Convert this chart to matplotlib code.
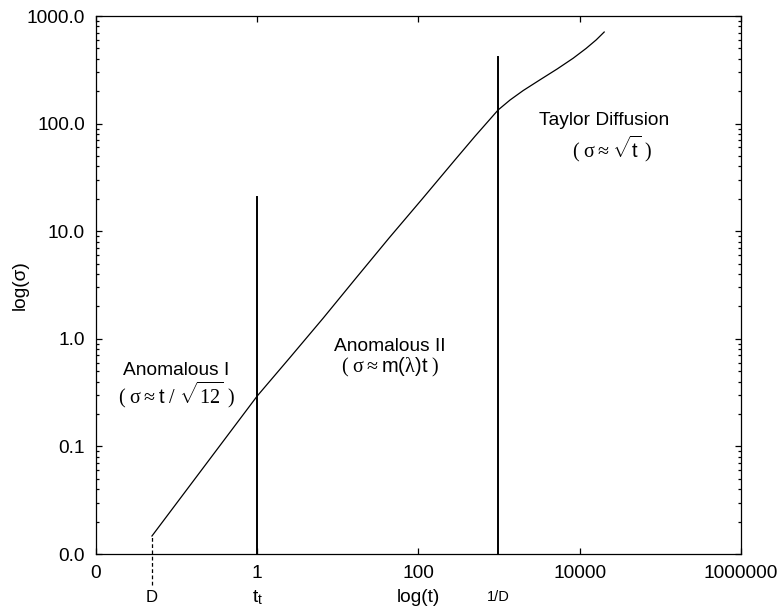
import matplotlib
matplotlib.use("Agg")
import matplotlib.pyplot as plt

plt.rcParams['font.family'] = ['Liberation Sans', 'DejaVu Sans']
plt.rcParams['mathtext.fontset'] = 'custom'
plt.rcParams['mathtext.rm'] = 'Liberation Serif'
plt.rcParams['mathtext.it'] = 'Liberation Serif'
plt.rcParams['mathtext.sf'] = 'Liberation Sans'

# dispersion curve
t_vals = [0.0495, 1.0, 2.55, 6.55, 16.8, 43.2, 111, 285, 504,
          973, 1370, 1990, 3230, 5250, 8280, 12000, 16000, 20100]
sigma_vals = [0.0147, 0.294, 0.670, 1.55, 3.67, 8.65, 19.9, 46.2, 76.5,
              134, 166, 203, 256, 322, 405, 500, 600, 710]

# regime boundaries
t_D = 0.0495
t_t = 1
t_invD = 973
line_top_tt = 21
line_top_invD = 420

x_ticks = [0.01, 1, 100, 10000, 1000000]
x_labels = ['0', '1', '100', '10000', '1000000']
y_ticks = [0.01, 0.1, 1, 10, 100, 1000]
y_labels = ['0.0', '0.1', '1.0', '10.0', '100.0', '1000.0']

fs = 13.8

fig = plt.figure(figsize=(7.8, 6.07), dpi=100)
ax = fig.add_axes([0.123, 0.0873, 0.827, 0.8863])

ax.plot(t_vals, sigma_vals, color='black', lw=0.9)
ax.plot([t_t, t_t], [0.01, line_top_tt], color='black', lw=1.4)
ax.plot([t_invD, t_invD], [0.01, line_top_invD], color='black', lw=1.4)
ax.plot([t_D, t_D], [0.0052, sigma_vals[0]], color='black', lw=0.9,
        ls=(0, (3, 2)), clip_on=False)

ax.set_xscale('log')
ax.set_yscale('log')
ax.set_xlim(0.01, 1000000)
ax.set_ylim(0.01, 1000)
ax.set_xticks(x_ticks)
ax.set_xticklabels(x_labels)
ax.set_yticks(y_ticks)
ax.set_yticklabels(y_labels)
ax.xaxis.set_minor_locator(matplotlib.ticker.NullLocator())
ax.yaxis.set_minor_locator(matplotlib.ticker.LogLocator(subs=range(2, 10)))
ax.yaxis.set_minor_formatter(matplotlib.ticker.NullFormatter())
ax.tick_params(which='both', direction='in', top=True, right=True,
               labelsize=fs, pad=8, width=0.9)
ax.tick_params(which='major', length=4)
ax.tick_params(which='minor', length=2.5)
for s in ax.spines.values():
    s.set_linewidth(0.9)

ax.set_ylabel('log(σ)', fontsize=fs, labelpad=-2)

# labels below the axis
tr = ax.get_xaxis_transform()
ax.text(t_D, -0.08, 'D', transform=tr, ha='center', va='center', fontsize=12)
ax.text(t_t, -0.082, r'$\mathsf{t}_\mathsf{t}$', transform=tr, ha='center', va='center', fontsize=14)
ax.text(99, -0.08, 'log(t)', transform=tr, ha='center', va='center', fontsize=fs)
ax.text(t_invD, -0.08, '1/D', transform=tr, ha='center', va='center', fontsize=10.5)

# regime annotations
ax.text(0.1, 0.51, 'Anomalous I', ha='center', va='center', fontsize=fs)
ax.text(0.1, 0.30, r'$(\ \sigma \approx \mathsf{t}\ /\ \sqrt{12}\ )$', ha='center', va='center', fontsize=14.5)
ax.text(44.5, 0.857, 'Anomalous II', ha='center', va='center', fontsize=fs)
ax.text(44.5, 0.547, r'$(\ \sigma \approx \mathsf{m(}\lambda\mathsf{)t}\ )$', ha='center', va='center', fontsize=14.5)
ax.text(20100, 106, 'Taylor Diffusion', ha='center', va='center', fontsize=fs)
ax.text(25200, 58.1, r'$(\ \sigma \approx \sqrt{\mathsf{t}}\ )$', ha='center', va='center', fontsize=14.5)

fig.savefig('out.png', dpi=100)
